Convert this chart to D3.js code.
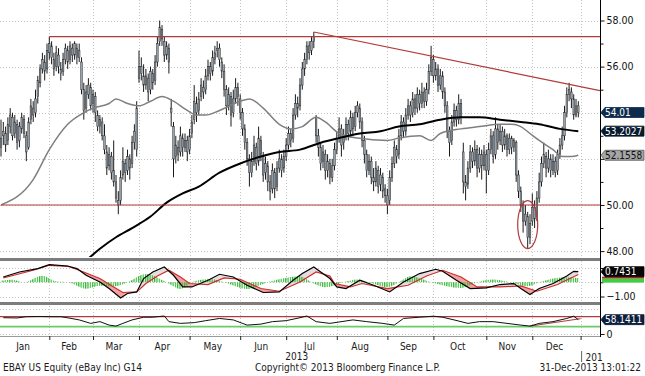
<!DOCTYPE html>
<html>
<head>
<meta charset="utf-8">
<script src="https://cdn.jsdelivr.net/npm/d3@7"></script>
<style>
body { margin: 0; background: #fff; }
svg { display: block; font-family: "Liberation Sans Narrow", "DejaVu Sans Condensed", sans-serif; }
</style>
</head>
<body>
<div id="chart"></div>
<script>
// daily bars, 2 Jan 2013 .. 31 Dec 2013 (trading days)
var opens = [
 52.5,53.0,53.1,52.8,53.4,53.8,53.1,53.5,52.8,53.3,53.7,53.0,52.5,53.7,54.2,54.0,54.7,55.3,55.9,56.2,55.9,
 56.6,56.9,56.3,56.0,56.5,55.9,55.8,56.3,56.7,56.3,56.8,56.5,56.8,56.4,56.2,55.0,54.2,54.8,55.1,
 54.4,54.7,53.9,53.4,53.6,53.0,52.3,51.7,52.1,51.5,51.0,50.2,50.2,51.3,51.8,51.5,52.0,51.8,52.7,52.4,
 55.5,56.0,55.6,55.2,55.5,55.0,55.7,55.4,56.2,57.1,57.6,57.1,56.5,56.8,54.2,53.4,52.1,52.5,52.3,52.9,52.5,52.8,
 52.4,53.1,53.7,54.4,54.1,54.7,55.1,55.0,55.6,56.0,55.8,56.3,56.7,56.8,56.2,55.8,55.0,54.3,54.7,54.0,54.6,55.1,
 54.6,54.0,53.3,52.7,52.0,51.4,51.9,52.5,51.9,52.8,52.1,51.4,51.7,51.0,50.7,51.4,50.8,51.6,52.0,51.6,
 52.1,52.6,53.1,52.9,53.9,54.4,54.3,55.2,55.9,56.3,56.9,56.7,57.1,53.8,53.0,52.5,51.9,52.2,51.5,51.8,51.2,51.7,
 52.4,52.9,53.3,52.7,53.0,53.5,53.2,53.8,53.4,54.0,54.2,53.6,52.8,52.2,51.5,51.9,51.2,51.0,51.5,50.9,51.2,50.7,
 50.4,50.2,51.2,51.8,52.4,52.2,53.0,53.6,53.2,53.9,54.3,54.0,54.6,54.2,54.8,54.4,54.9,54.5,55.0,55.8,
 56.3,55.6,55.9,55.2,55.6,54.9,54.3,53.2,52.8,53.6,54.1,53.7,54.4,52.3,51.0,50.9,51.6,52.3,51.9,52.4,51.6,52.2,51.7,
 52.2,51.5,52.4,53.0,52.2,53.3,52.8,53.2,52.6,53.0,52.4,52.9,52.5,52.7,51.3,50.6,50.0,49.3,49.5,48.6,
 49.3,49.9,49.5,50.3,51.0,51.8,52.1,51.6,52.0,51.5,51.9,51.5,52.2,52.6,53.0,54.0,54.8,54.9,54.6,53.9,54.3
];
var highs = [
 53.7,53.6,53.4,53.8,54.2,54.0,53.9,53.7,53.6,54.0,53.9,53.2,53.8,54.6,54.5,55.0,55.6,56.1,56.6,56.5,57.0,
 57.3,57.1,56.6,56.9,56.8,56.2,56.6,57.0,56.9,57.1,57.0,57.1,57.0,57.0,56.4,55.3,55.2,55.5,55.3,
 55.0,54.9,54.1,53.9,53.8,53.5,52.6,52.5,52.3,52.8,51.3,50.6,51.5,52.5,52.0,52.4,52.2,53.0,53.5,54.5,
 56.7,56.4,56.1,55.9,55.7,56.0,55.9,56.5,57.3,58.0,57.8,57.3,57.1,57.0,54.6,53.6,53.0,52.8,53.4,53.1,53.1,53.0,
 53.3,53.9,55.2,54.7,54.9,55.5,55.4,55.9,56.3,56.2,56.7,56.9,57.1,57.0,56.4,56.1,55.2,55.1,54.9,55.0,55.5,55.3,
 54.8,54.2,53.5,52.9,52.2,52.3,53.0,52.7,53.4,53.0,52.3,52.1,51.9,51.3,51.8,51.6,51.9,52.4,52.2,52.4,
 52.9,53.4,53.3,54.2,54.8,54.7,55.5,56.2,56.6,57.1,57.1,57.3,57.5,53.9,53.3,52.7,52.6,52.4,52.2,52.0,52.0,52.7,
 53.2,53.8,53.5,53.3,53.8,53.7,54.1,54.0,54.3,54.5,54.4,53.8,53.0,52.4,52.2,52.1,51.6,51.9,51.7,51.6,51.4,50.9,
 50.7,51.5,52.1,52.8,52.6,53.3,53.9,53.8,54.2,54.6,54.5,54.9,54.8,55.1,55.0,55.3,55.1,55.3,56.1,56.9,
 56.5,56.2,56.1,55.9,55.8,55.1,54.5,53.4,53.9,54.4,54.3,54.8,54.6,52.7,51.3,51.9,52.6,52.5,52.8,52.6,52.5,52.4,52.6,
 52.4,52.7,53.3,53.2,53.8,53.5,53.5,53.4,53.3,53.1,53.1,53.0,52.9,52.8,51.5,50.8,50.2,50.0,49.7,49.6,
 50.5,50.2,50.6,51.4,52.1,52.7,52.3,52.4,52.2,52.2,52.1,52.4,52.9,53.4,54.3,55.1,55.3,55.1,54.8,54.6,54.5
];
var lows = [
 52.1,52.6,52.3,52.6,53.1,52.8,52.9,52.4,52.5,53.1,52.9,51.9,52.4,53.5,53.6,53.8,54.4,55.1,55.7,55.4,55.7,
 56.3,56.1,55.6,55.8,55.7,55.4,55.6,56.1,55.9,56.1,56.2,56.3,56.1,56.2,54.8,53.7,54.0,54.6,54.1,
 54.0,53.6,53.2,53.1,52.8,52.2,51.3,51.5,51.1,50.8,50.1,49.6,50.0,51.1,51.0,51.3,51.1,51.6,52.4,52.1,
 55.3,55.4,54.9,55.0,54.5,54.8,55.0,55.2,56.0,56.9,56.9,56.2,56.3,55.7,53.4,51.2,51.8,51.9,52.1,52.1,52.3,51.9,
 52.2,52.9,53.5,53.6,53.9,54.5,54.6,54.8,55.4,55.4,55.6,56.1,56.4,56.0,55.5,54.7,53.9,54.1,53.4,53.8,54.4,54.3,
 53.7,53.0,52.4,51.7,50.8,51.2,51.7,51.5,51.7,51.9,51.0,51.1,50.6,50.2,50.5,50.3,50.6,51.4,51.2,51.4,
 51.9,52.4,52.5,52.7,53.7,53.8,54.1,55.0,55.6,56.1,56.3,56.5,56.8,52.7,52.1,51.5,51.6,51.1,51.2,50.9,51.0,51.5,
 52.2,52.7,52.1,52.4,52.8,52.8,53.0,53.0,53.2,53.8,53.3,52.5,51.8,51.2,51.3,50.9,50.6,50.8,50.5,50.6,50.3,50.1,
 49.6,50.0,51.0,51.6,51.8,52.0,52.8,52.9,53.0,53.7,53.6,53.8,53.9,54.0,54.1,54.2,54.2,54.3,54.8,55.6,
 55.3,55.4,54.9,55.0,54.6,54.0,52.9,52.1,52.6,53.4,53.4,53.5,53.5,50.5,50.2,50.7,51.4,51.6,51.7,51.2,51.4,51.1,51.5,
 50.5,51.3,52.2,51.8,52.0,52.4,52.6,52.3,52.4,52.1,52.2,52.2,52.3,51.0,50.3,49.7,48.8,49.1,48.1,48.3,
 49.1,49.0,49.3,50.1,50.8,51.6,51.2,51.4,51.2,51.3,51.2,51.3,52.0,52.4,52.8,53.8,54.5,54.2,53.7,53.8,53.8
];
var closes = [
 52.9,53.2,52.6,53.5,53.9,53.0,53.6,52.7,53.4,53.8,53.1,52.3,53.6,54.3,53.9,54.6,55.4,55.9,56.3,55.8,56.7,
 57.0,56.4,55.9,56.6,56.0,55.7,56.3,56.8,56.2,56.9,56.5,57.0,56.4,56.7,55.0,54.1,54.9,55.2,54.3,
 54.8,54.0,53.4,53.7,53.0,52.4,51.6,52.2,51.4,51.0,50.3,50.0,51.2,51.9,51.4,52.1,51.6,52.7,53.2,54.2,
 56.0,55.7,55.2,55.6,54.9,55.8,55.3,56.2,57.0,57.7,57.2,56.5,56.9,56.2,54.0,52.0,52.6,52.2,53.0,52.5,52.8,52.3,
 53.0,53.6,54.5,54.0,54.6,55.2,54.9,55.6,56.0,55.7,56.4,56.6,56.8,56.3,55.8,55.0,54.3,54.8,53.9,54.6,55.1,54.7,
 54.0,53.3,52.7,52.0,51.4,51.9,52.6,51.8,52.9,52.2,51.3,51.8,51.0,50.6,51.5,50.7,51.6,52.0,51.5,52.1,
 52.6,53.1,52.8,53.9,54.4,54.2,55.2,55.9,56.3,56.9,56.6,57.1,57.3,53.0,52.5,51.8,52.3,51.5,51.9,51.2,51.7,52.4,
 52.9,53.3,52.6,53.0,53.5,53.1,53.8,53.3,54.0,54.3,53.6,52.8,52.2,51.5,51.9,51.2,51.0,51.6,50.8,51.3,50.6,50.4,
 50.0,51.2,51.8,52.5,52.1,53.0,53.6,53.2,53.9,54.3,53.9,54.6,54.2,54.8,54.4,54.9,54.5,55.0,55.8,56.4,
 55.6,55.9,55.2,55.6,54.9,54.3,53.2,52.7,53.6,54.1,53.7,54.4,53.8,51.0,50.8,51.6,52.3,51.9,52.4,51.6,52.2,51.7,52.3,
 51.5,52.4,53.0,52.1,53.3,52.7,53.2,52.6,53.0,52.4,52.9,52.5,52.8,51.3,50.6,50.0,49.3,49.6,48.6,49.2,
 49.9,49.4,50.3,51.0,51.8,52.2,51.6,52.0,51.5,51.9,51.4,52.2,52.6,53.0,54.0,54.8,55.0,54.6,53.9,54.3,54.01
];

// month labels and first trading day of each month (index), last = Jan 2014
var months = ["Jan","Feb","Mar","Apr","May","Jun","Jul","Aug","Sep","Oct","Nov","Dec"];
var monthStarts = [0,21,40,60,82,104,124,146,168,188,211,231,252];

// moving averages (day index, value)
var ma50Days = [0,14,21,29,36,40,47,50,55,60,65,70,75,81,85,89,95,104,108,114,121,126,131,137,141,147,155,168,173,182,187,191,200,208,217,222,226,230,234,240,244,248,251];
var ma50Vals = [50.0,51.1,52.4,53.5,54.0,54.2,54.4,54.6,54.4,54.3,54.5,54.7,54.5,54.1,53.9,53.9,54.1,54.5,54.6,54.2,53.5,53.3,53.4,53.8,53.6,53.1,52.9,52.8,52.9,53.0,52.8,53.1,53.3,53.4,53.5,53.5,53.4,53.1,52.8,52.4,52.1,52.1,52.16];
var ma200Days = [36,43,50,57,65,72,79,86,95,104,113,121,130,139,147,156,165,173,182,191,200,208,217,226,234,243,251];
var ma200Vals = [47.5,48.1,48.6,49.0,49.5,50.1,50.5,50.8,51.4,51.8,52.1,52.3,52.4,52.7,52.9,53.1,53.2,53.4,53.5,53.7,53.8,53.8,53.7,53.6,53.5,53.3,53.2];

// oscillator panel
var oscDays = [1,8,16,21,29,33,37,43,47,52,55,59,62,66,71,75,79,83,90,95,101,107,114,121,127,131,136,139,143,146,150,156,162,169,175,182,189,192,198,204,211,217,223,226,230,234,240,246,249,251];
var oscMain = [0.37,0.72,0.96,1.24,1.14,0.96,0.49,0.02,-0.44,-1.10,-0.79,-0.68,0.26,0.72,1.07,0.49,-0.33,-0.33,0.14,0.56,0.37,-0.21,-0.72,-0.68,0.14,0.61,1.07,0.72,0.26,-0.33,-0.44,0.14,-0.21,-0.68,0.02,0.61,0.91,0.77,0.14,-0.44,-0.40,-0.16,-0.09,-0.44,-0.86,-0.44,-0.09,0.44,0.77,0.7431];
var sigDays = [1,14,21,29,34,43,49,53,59,63,68,73,78,82,90,97,104,113,121,130,137,143,145,152,157,168,177,185,192,200,207,217,226,233,242,251];
var sigVals = [0.30,0.84,1.19,1.12,0.84,0.26,-0.33,-0.72,-0.68,-0.09,0.44,0.84,0.37,-0.09,-0.16,0.30,0.21,-0.44,-0.63,0.02,0.72,0.44,-0.09,-0.33,-0.09,-0.44,-0.21,0.44,0.84,0.37,-0.33,-0.33,-0.26,-0.63,-0.16,0.54];
var histDays = [0,5,10,18,24,29,37,43,49,55,63,72,78,83,91,97,107,116,130,135,141,149,155,160,168,173,178,187,200,207,214,221,229,234,245,251];
var histVals = [0.10,0.18,0,0.45,0.05,0,-0.45,-0.25,-0.30,0,0.58,0,-0.47,0,0.23,0,-0.47,0,0.42,0,-0.35,0,0.19,0,-0.35,0,0.42,0,-0.40,0,0.19,0,-0.28,0,0.35,0.30];

// RSI panel
var rsiDays = [1,7,11,17,21,26,30,34,39,43,47,50,53,57,62,66,71,73,78,84,89,95,101,107,113,118,124,130,133,137,143,153,159,166,171,175,182,188,192,197,203,208,214,220,226,230,234,240,246,249,251];
var rsiVals = [66,65,70,71,70,70,64,57,43,50,36,32,43,57,68,68,73,50,43,46,54,63,57,36,40,50,54,66,73,50,43,57,50,43,36,63,68,72,68,57,43,50,50,43,36,32,43,50,63,72,58.1411];

// drawn annotations
var hLevels = [[21, 57.3], [0, 50.0]];
var trendLine = [[136, 57.5], [260.4, 54.96]];
var rsiTrend = [[230, 32], [252, 62]];

// right-hand value tags
var lastClose = 54.01, lastMa200 = 53.2027, lastMa50 = 52.1558, lastOsc = 0.7431, lastRsi = 58.1411;

function init() {

	var w = 645, h = 376;
	var axisX = 600;
	var fs = "10px";

	var svg = d3.select("#chart").append("svg")
		.attr("width", w)
		.attr("height", h);

	var x = d3.scaleLinear().domain([0, 252]).range([1, 580.6]);
	var y = d3.scaleLinear().domain([48, 58]).range([251.1, 20.5]);
	var yOsc = d3.scaleLinear().domain([-1, 1]).range([296.5, 268]);
	var yRsi = d3.scaleLinear().domain([0, 100]).range([334, 309.3]);

	var defs = svg.append("defs");
	defs.append("clipPath").attr("id", "clipMain")
		.append("rect").attr("x", 0).attr("y", 0).attr("width", axisX).attr("height", 257);
	defs.append("clipPath").attr("id", "clipOsc")
		.append("rect").attr("x", 0).attr("y", 261).attr("width", axisX).attr("height", 41);
	defs.append("clipPath").attr("id", "clipRsi")
		.append("rect").attr("x", 0).attr("y", 305).attr("width", axisX).attr("height", 31);

	// hatch for histogram
	var pat = defs.append("pattern").attr("id", "hatch")
		.attr("patternUnits", "userSpaceOnUse")
		.attr("width", 2.3).attr("height", 8);
	pat.append("rect").attr("width", 1.2).attr("height", 8).attr("fill", "#33b833");

	var grid = svg.append("g")
		.attr("stroke", "#c4c4c4")
		.attr("stroke-dasharray", "1,2")
		.attr("stroke-width", 1);

	// vertical grid at month starts
	grid.selectAll("line.v")
		.data(monthStarts.slice(1))
		.enter().append("line")
		.attr("x1", function(d) { return Math.round(x(d)) + 0.5; })
		.attr("x2", function(d) { return Math.round(x(d)) + 0.5; })
		.attr("y1", 0).attr("y2", 336);

	// horizontal grids
	grid.selectAll("line.hm")
		.data([48, 50, 52, 54, 56, 58])
		.enter().append("line")
		.attr("x1", 0).attr("x2", axisX)
		.attr("y1", function(d) { return Math.round(y(d)) + 0.5; })
		.attr("y2", function(d) { return Math.round(y(d)) + 0.5; });
	grid.selectAll("line.ho")
		.data([-1, 0, 1])
		.enter().append("line")
		.attr("x1", 0).attr("x2", axisX)
		.attr("y1", function(d) { return Math.round(yOsc(d)) + 0.5; })
		.attr("y2", function(d) { return Math.round(yOsc(d)) + 0.5; });
	grid.selectAll("line.hr")
		.data([0, 100])
		.enter().append("line")
		.attr("x1", 0).attr("x2", axisX)
		.attr("y1", function(d) { return Math.round(yRsi(d)) + 0.5; })
		.attr("y2", function(d) { return Math.round(yRsi(d)) + 0.5; });

	//Main panel
	var main = svg.append("g").attr("clip-path", "url(#clipMain)");

	var days = d3.range(closes.length);

	main.selectAll("line.wick")
		.data(days)
		.enter().append("line")
		.attr("x1", function(i) { return x(i); })
		.attr("x2", function(i) { return x(i); })
		.attr("y1", function(i) { return y(highs[i]); })
		.attr("y2", function(i) { return y(lows[i]); })
		.attr("stroke", "#1b1b1b")
		.attr("stroke-width", 1);

	main.selectAll("rect.body")
		.data(days)
		.enter().append("rect")
		.attr("x", function(i) { return x(i) - 0.8; })
		.attr("width", 1.6)
		.attr("y", function(i) { return y(Math.max(opens[i], closes[i])); })
		.attr("height", function(i) { return Math.max(0.8, Math.abs(y(opens[i]) - y(closes[i]))); })
		.attr("fill", "#97a3ae")
		.attr("stroke", "#2a2a2a")
		.attr("stroke-width", 0.5);

	var maLine = d3.line()
		.x(function(d) { return x(d[0]); })
		.y(function(d) { return y(d[1]); })
		.curve(d3.curveMonotoneX);

	main.append("path")
		.datum(d3.zip(ma50Days, ma50Vals))
		.attr("d", maLine)
		.attr("fill", "none")
		.attr("stroke", "#7f7f7f")
		.attr("stroke-width", 1.5);

	main.append("path")
		.datum(d3.zip(ma200Days, ma200Vals))
		.attr("d", maLine)
		.attr("fill", "none")
		.attr("stroke", "#000")
		.attr("stroke-width", 2);

	// user drawn lines
	var anno = main.append("g")
		.attr("stroke", "#b23a3a")
		.attr("stroke-width", 1.2)
		.attr("fill", "none");

	anno.selectAll("line.lvl")
		.data(hLevels)
		.enter().append("line")
		.attr("x1", function(d) { return x(d[0]); })
		.attr("x2", axisX)
		.attr("y1", function(d) { return y(d[1]); })
		.attr("y2", function(d) { return y(d[1]); });

	anno.append("line")
		.attr("x1", x(trendLine[0][0])).attr("y1", y(trendLine[0][1]))
		.attr("x2", x(trendLine[1][0])).attr("y2", y(trendLine[1][1]));

	anno.append("ellipse")
		.attr("cx", x(229))
		.attr("cy", y(49.15))
		.attr("rx", 10)
		.attr("ry", 24);

	//Oscillator panel
	var osc = svg.append("g").attr("clip-path", "url(#clipOsc)");
	var mainPts = d3.zip(oscDays, oscMain);
	var sigPts = d3.zip(sigDays, sigVals);

	defs.append("clipPath").attr("id", "aboveMain")
		.append("path")
		.attr("d", d3.area()
			.x(function(d) { return x(d[0]); })
			.y0(261)
			.y1(function(d) { return yOsc(d[1]); })(mainPts));
	defs.append("clipPath").attr("id", "belowMain")
		.append("path")
		.attr("d", d3.area()
			.x(function(d) { return x(d[0]); })
			.y0(302)
			.y1(function(d) { return yOsc(d[1]); })(mainPts));

	osc.append("g").attr("clip-path", "url(#aboveMain)")
		.append("path")
		.attr("d", d3.area()
			.x(function(d) { return x(d[0]); })
			.y0(302)
			.y1(function(d) { return yOsc(d[1]); })(sigPts))
		.attr("fill", "#f0a2a2");

	osc.append("g").attr("clip-path", "url(#belowMain)")
		.append("path")
		.attr("d", d3.area()
			.x(function(d) { return x(d[0]); })
			.y0(261)
			.y1(function(d) { return yOsc(d[1]); })(sigPts))
		.attr("fill", "#e6dede");

	osc.append("path")
		.datum(d3.zip(histDays, histVals))
		.attr("d", d3.area()
			.x(function(d) { return x(d[0]); })
			.y0(yOsc(0))
			.y1(function(d) { return yOsc(d[1]); })
			.curve(d3.curveMonotoneX))
		.attr("fill", "url(#hatch)");

	var oscLine = d3.line()
		.x(function(d) { return x(d[0]); })
		.y(function(d) { return yOsc(d[1]); });

	osc.append("path").datum(sigPts)
		.attr("d", oscLine)
		.attr("fill", "none")
		.attr("stroke", "#cf2e2e")
		.attr("stroke-width", 1.2);

	osc.append("path").datum(mainPts)
		.attr("d", oscLine)
		.attr("fill", "none")
		.attr("stroke", "#000")
		.attr("stroke-width", 1.2);

	//RSI panel
	var rsi = svg.append("g").attr("clip-path", "url(#clipRsi)");

	rsi.append("line")
		.attr("x1", 0).attr("x2", axisX)
		.attr("y1", yRsi(70)).attr("y2", yRsi(70))
		.attr("stroke", "#b23a3a").attr("stroke-width", 1.2);
	rsi.append("line")
		.attr("x1", 0).attr("x2", axisX)
		.attr("y1", yRsi(30)).attr("y2", yRsi(30))
		.attr("stroke", "#6cc96c").attr("stroke-width", 1.6);
	rsi.append("line")
		.attr("x1", x(rsiTrend[0][0])).attr("y1", yRsi(rsiTrend[0][1]))
		.attr("x2", x(rsiTrend[1][0])).attr("y2", yRsi(rsiTrend[1][1]))
		.attr("stroke", "#b23a3a").attr("stroke-width", 1);
	rsi.append("path")
		.datum(d3.zip(rsiDays, rsiVals))
		.attr("d", d3.line()
			.x(function(d) { return x(d[0]); })
			.y(function(d) { return yRsi(d[1]); }))
		.attr("fill", "none")
		.attr("stroke", "#111")
		.attr("stroke-width", 1);

	// panel separators
	svg.append("rect").attr("x", 0).attr("y", 258).attr("width", axisX).attr("height", 3).attr("fill", "#7d7d7d");
	svg.append("rect").attr("x", 0).attr("y", 302).attr("width", axisX).attr("height", 3).attr("fill", "#7d7d7d");

	//Right axes (labels hidden by value tags are left out, as in the source)
	var fmt = d3.format(".2f");
	var yAxis = d3.axisRight(y).tickValues([48, 50, 56, 58]).tickFormat(fmt).tickSize(4);
	var yTicks = d3.axisRight(y).tickValues([52, 54]).tickFormat("").tickSize(4);
	var yMinor = d3.axisRight(y).tickValues([49, 51, 53, 55, 57]).tickFormat("").tickSize(3);
	var oscAxis = d3.axisRight(yOsc).tickValues([-1]).tickFormat(fmt).tickSize(4);
	var oscMinor = d3.axisRight(yOsc).tickValues([0, 1]).tickFormat("").tickSize(3);
	var rsiAxis = d3.axisRight(yRsi).tickValues([0]).tickFormat(d3.format("d")).tickSize(4);

	[yAxis, yTicks, yMinor, oscAxis, oscMinor, rsiAxis].forEach(function(ax) {
		var g = svg.append("g")
			.attr("transform", "translate(" + (axisX + 0.5) + ",0)")
			.call(ax);
		g.select(".domain").remove();
		g.selectAll("line").attr("stroke", "#111");
		g.selectAll("text")
			.attr("x", 6)
			.attr("font-family", "Liberation Sans Narrow, DejaVu Sans Condensed, sans-serif")
			.attr("font-size", "10.5px")
			.attr("fill", "#111");
	});

	svg.append("line")
		.attr("x1", axisX + 0.5).attr("x2", axisX + 0.5)
		.attr("y1", 0).attr("y2", 337)
		.attr("stroke", "#000");

	// value tags
	function tag(yc, txt, fill, color) {
		var g = svg.append("g");
		g.append("path")
			.attr("d", "M" + (axisX + 1) + "," + yc + " L" + (axisX + 5) + "," + (yc - 5) +
				" L644," + (yc - 5) + " L644," + (yc + 5) + " L" + (axisX + 5) + "," + (yc + 5) + " Z")
			.attr("fill", fill)
			.attr("stroke", fill === "#a6a6a6" ? "#555" : fill)
			.attr("stroke-width", 0.8);
		g.append("text")
			.attr("x", axisX + 5)
			.attr("y", yc + 3.6)
			.attr("font-size", "10px")
			.attr("fill", color)
			.text(txt);
	}

	svg.append("rect").attr("x", axisX + 2).attr("y", yOsc(lastOsc) + 5).attr("width", 42).attr("height", 2).attr("fill", "#b02a2a");
	svg.append("rect").attr("x", axisX + 2).attr("y", yOsc(lastOsc) + 7).attr("width", 42).attr("height", 4).attr("fill", "#3fcf3f");

	tag(y(lastClose), "54.01", "#0d2b4d", "#fff");
	tag(y(lastMa200), "53.2027", "#081a2e", "#fff");
	tag(y(lastMa50), "52.1558", "#a6a6a6", "#111");
	tag(yOsc(lastOsc), "0.7431", "#050505", "#fff");
	tag(yRsi(lastRsi), "58.1411", "#0e1f3d", "#fff");

	//Bottom axis
	svg.append("line")
		.attr("x1", 0).attr("x2", axisX)
		.attr("y1", 336.5).attr("y2", 336.5)
		.attr("stroke", "#9a9a9a");

	var xAxis = d3.axisBottom(x).tickValues(monthStarts.slice(1)).tickFormat("").tickSize(4);
	var xg = svg.append("g").attr("transform", "translate(0,336)").call(xAxis);
	xg.select(".domain").remove();
	xg.selectAll("line").attr("stroke", "#222");

	svg.selectAll("text.month")
		.data(months)
		.enter().append("text")
		.attr("x", function(d, i) { return x((monthStarts[i] + monthStarts[i + 1]) / 2) - 2; })
		.attr("y", 350)
		.attr("text-anchor", "middle")
		.attr("font-size", fs)
		.attr("fill", "#1a1a1a")
		.text(function(d) { return d; });

	svg.append("text")
		.attr("x", x(monthStarts[12] / 2) + 6)
		.attr("y", 360)
		.attr("text-anchor", "middle")
		.attr("font-size", fs)
		.attr("fill", "#1a1a1a")
		.text("2013");

	svg.append("line")
		.attr("x1", x(252) + 1).attr("x2", x(252) + 1)
		.attr("y1", 351).attr("y2", 362)
		.attr("stroke", "#666");
	svg.append("text")
		.attr("x", x(252) + 5)
		.attr("y", 361)
		.attr("font-size", fs)
		.attr("fill", "#1a1a1a")
		.text("201");

	// footer
	svg.append("text").attr("x", 3).attr("y", 371)
		.attr("font-size", fs).attr("fill", "#1a1a1a")
		.text("EBAY US Equity (eBay Inc) G14");
	svg.append("text").attr("x", 255).attr("y", 371)
		.attr("font-size", fs).attr("fill", "#1a1a1a")
		.text("Copyright\u00a9 2013 Bloomberg Finance L.P.");
	svg.append("text").attr("x", 641).attr("y", 371)
		.attr("text-anchor", "end")
		.attr("font-size", fs).attr("fill", "#1a1a1a")
		.text("31-Dec-2013 13:01:22");
}

window.onload = init;
</script>
</body>
</html>
